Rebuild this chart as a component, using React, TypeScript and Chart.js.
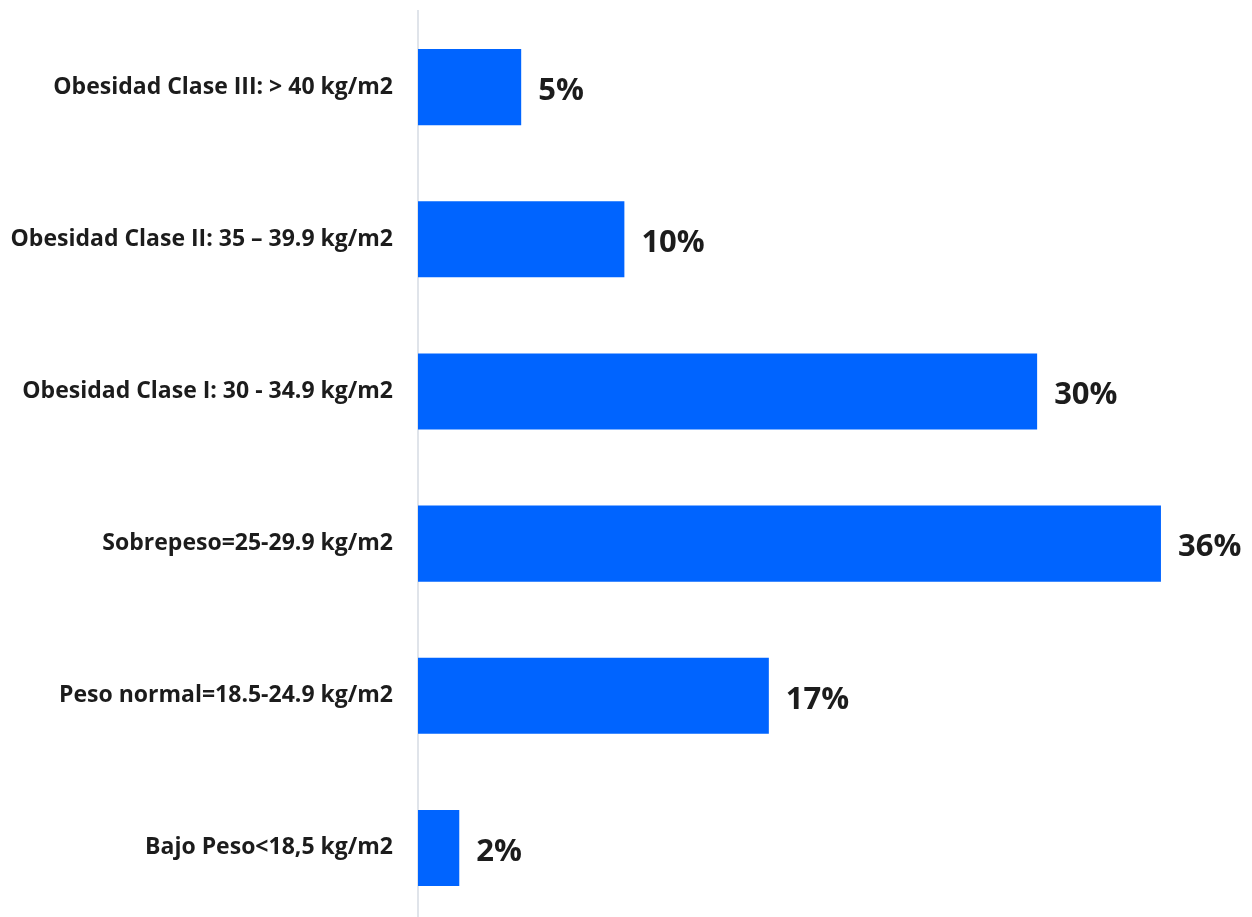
import React, { useEffect, useRef } from "react";
import { Chart, registerables } from "chart.js";

Chart.register(...registerables);

const categories: string[] = [
  "Obesidad Clase III: > 40 kg/m2",
  "Obesidad Clase II: 35 – 39.9 kg/m2",
  "Obesidad Clase I: 30 - 34.9 kg/m2",
  "Sobrepeso=25-29.9 kg/m2",
  "Peso normal=18.5-24.9 kg/m2",
  "Bajo Peso<18,5 kg/m2",
];

const percentages: number[] = [5, 10, 30, 36, 17, 2];

const BAR_COLOR = "#0064FF";
const TEXT_COLOR = "#1c1c1c";
const FONT_FAMILY = "'Open Sans', Lato, sans-serif";

// Writes the percentage just past the end of each bar.
const valueLabels = {
  id: "valueLabels",
  afterDatasetsDraw(chart: Chart) {
    const ctx = chart.ctx;
    const meta = chart.getDatasetMeta(0);
    const values = chart.data.datasets[0].data as number[];
    ctx.save();
    ctx.font = `bold 31px ${FONT_FAMILY}`;
    ctx.fillStyle = TEXT_COLOR;
    ctx.textAlign = "left";
    ctx.textBaseline = "middle";
    meta.data.forEach((bar: any, i: number) => {
      ctx.fillText(`${values[i]}%`, bar.x + 17, bar.y + 4);
    });
    ctx.restore();
  },
};

export default function App() {
  const canvasRef = useRef<HTMLCanvasElement | null>(null);

  useEffect(() => {
    if (!canvasRef.current) return;
    const chart = new Chart(canvasRef.current, {
      type: "bar",
      data: {
        labels: categories,
        datasets: [
          {
            data: percentages,
            backgroundColor: BAR_COLOR,
            barPercentage: 0.5,
            categoryPercentage: 1,
          },
        ],
      },
      options: {
        indexAxis: "y",
        animation: false,
        responsive: false,
        layout: { padding: { top: 11, right: 8.5, bottom: 6, left: 0 } },
        plugins: {
          legend: { display: false },
          tooltip: { enabled: false },
        },
        scales: {
          x: {
            display: false,
            min: 0,
            max: 40,
          },
          y: {
            grid: { display: false, drawTicks: false },
            border: { display: true, color: "#e0e4ea", width: 2 },
            ticks: {
              padding: 25,
              color: TEXT_COLOR,
              font: { family: FONT_FAMILY, size: 23, weight: "bold" },
            },
            afterFit(scale: any) {
              scale.width = 418;
              scale.paddingTop = 0;
              scale.paddingBottom = 0;
            },
          },
        },
      },
      plugins: [valueLabels],
    });
    return () => chart.destroy();
  }, []);

  return (
    <div style={{ position: "absolute", top: 0, left: 0 }}>
      <canvas ref={canvasRef} width={1252} height={930} style={{ display: "block" }} />
    </div>
  );
}
